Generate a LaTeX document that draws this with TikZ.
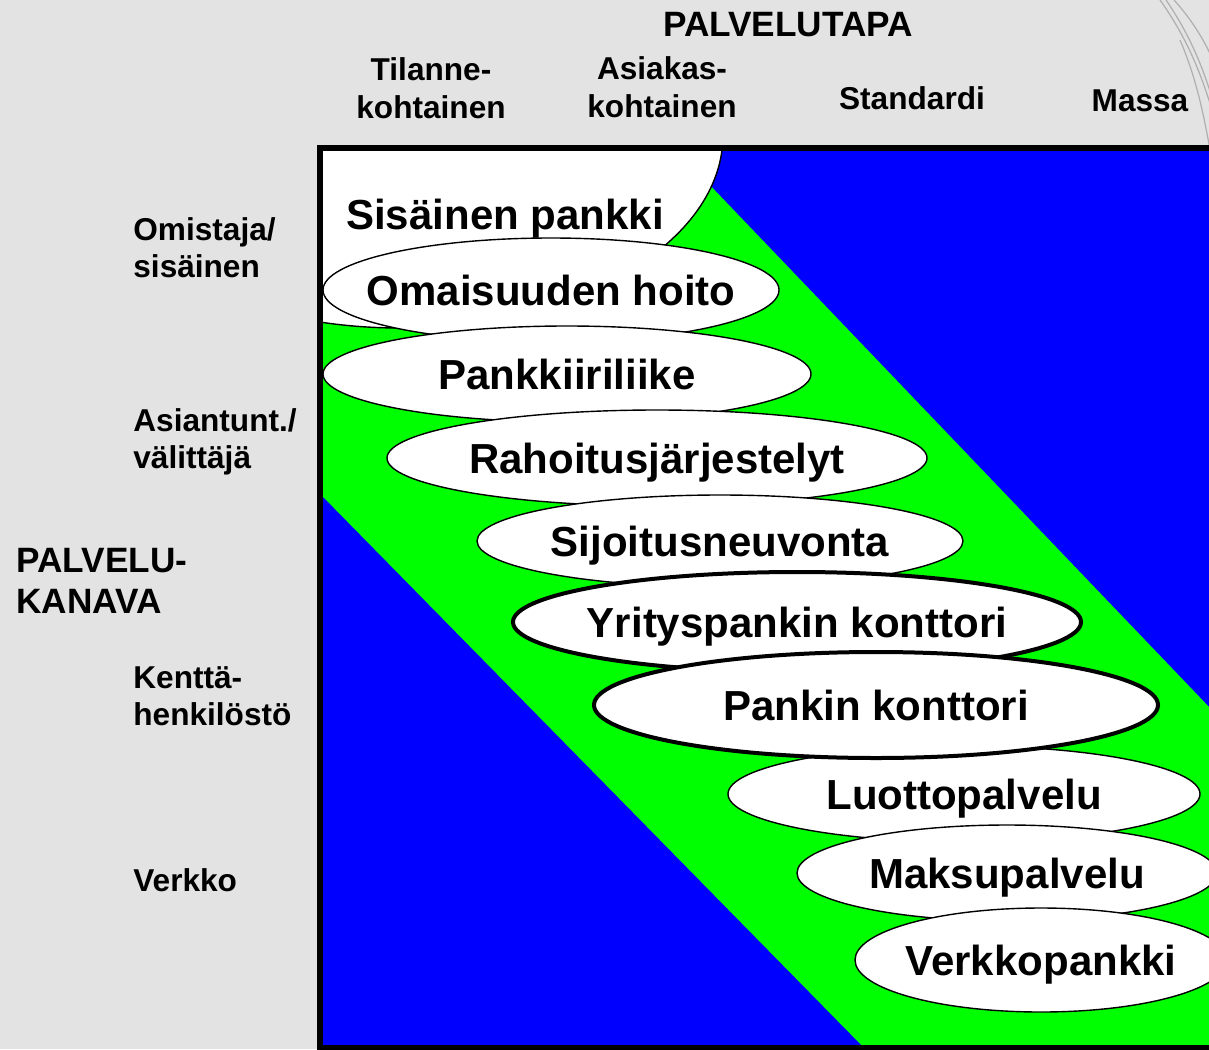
\documentclass[tikz,border=0pt]{standalone}
\usepackage{fontspec}
\setmainfont{Liberation Sans}
\usetikzlibrary{shapes.geometric}
\definecolor{tausta}{RGB}{227,227,227}
\definecolor{sininen}{RGB}{0,0,255}
\definecolor{vihrea}{RGB}{0,255,0}
\definecolor{juova}{RGB}{175,175,175}

\begin{document}
\begin{tikzpicture}[x=0.5pt, y=-0.5pt,
    kupla/.style={ellipse, draw, fill=white, line width=0.7pt, inner sep=0pt,
      font=\fontsize{21}{24}\selectfont\bfseries, text height=15pt, text depth=0pt},
    paksu/.style={kupla, line width=2pt},
    sarake/.style={align=center, font=\fontsize{15.8}{19}\selectfont\bfseries},
    rivi/.style={anchor=west, align=left, inner sep=0pt, font=\fontsize{15.8}{18.4}\selectfont\bfseries},
    akseli/.style={font=\fontsize{17.6}{20.5}\selectfont\bfseries}]
    % tausta
    \clip (0,0) rectangle (1209,1049);
    \fill[tausta] (0,0) rectangle (1209,1049);
    
    % koristejuovat oikeassa yläkulmassa
    \draw[juova, line width=0.6pt] (1160,0) .. controls (1185,35) and (1200,70) .. (1212,110);
    \draw[juova, line width=0.6pt] (1166,0) .. controls (1190,35) and (1203,68) .. (1212,98);
    \draw[juova, line width=0.6pt] (1174,0) .. controls (1192,20) and (1204,40) .. (1212,58);
    \draw[juova, line width=0.6pt] (1180,40) .. controls (1195,75) and (1203,110) .. (1210,150);
    
    % kentän pohjat
    \begin{scope}
        \clip (320,148) rectangle (1260,1048);
        \fill[vihrea] (320,148) rectangle (1260,1048);
        \fill[sininen] (674.6,148) -- (1260,148) -- (1260,760) -- cycle;
        \fill[sininen] (320,494) -- (864,1048) -- (320,1048) -- cycle;
        % sisäinen pankki -alue
        \draw[fill=white, line width=0.7pt] (400,135) ellipse [x radius=323, y radius=193];
    \end{scope}
    \node[font=\fontsize{21}{24}\selectfont\bfseries, text height=15pt, text depth=0pt] (sisainen) at (505,214) {Sisäinen pankki};
    
    % palvelut
    \node[kupla, minimum width=228pt, minimum height=52pt] (omaisuus) at (551,290) {\makebox[0pt]{Omaisuuden hoito}};
    \node[kupla, minimum width=244pt, minimum height=48pt] (pankkiiri) at (567,374) {\makebox[0pt]{Pankkiiriliike}};
    \node[kupla, minimum width=270pt, minimum height=48pt] (rahoitus) at (657,458) {\makebox[0pt]{Rahoitusjärjestelyt}};
    \node[kupla, minimum width=243pt, minimum height=46pt] (sijoitus) at (720,541) {\makebox[0pt]{Sijoitusneuvonta}};
    \node[kupla, minimum width=236pt, minimum height=48pt] (luotto) at (964,794) {\makebox[0pt]{Luottopalvelu}};
    \node[kupla, minimum width=210pt, minimum height=48pt] (maksu) at (1007,873) {\makebox[0pt]{Maksupalvelu}};
    \node[kupla, minimum width=186pt, minimum height=52pt] (verkko) at (1041,960) {\makebox[0pt]{Verkkopankki}};
    \node[paksu, minimum width=284pt, minimum height=50pt] (yritys) at (797,622) {\makebox[0pt]{Yrityspankin konttori}};
    \node[paksu, minimum width=282pt, minimum height=53pt] (konttori) at (876,705) {\makebox[0pt]{Pankin konttori}};
    
    % kehys
    \draw[line width=3pt] (320,148) rectangle (1260,1048);
    
    % palvelutapa
    \node[akseli] (tapa) at (788,25) {PALVELUTAPA};
    \node[sarake] (tilanne) at (431,88) {Tilanne-\\kohtainen};
    \node[sarake] (asiakas) at (662,87) {Asiakas-\\kohtainen};
    \node[sarake] (standardi) at (912,98) {Standardi};
    \node[sarake] (massa) at (1140,101) {Massa};
    
    % palvelukanava
    \node[akseli, anchor=west, align=left, inner sep=0pt] (kanava) at (16,581) {PALVELU-\\KANAVA};
    \node[rivi] (omistaja) at (133,248) {Omistaja/\\sisäinen};
    \node[rivi] (asiantuntija) at (133,442) {Asiantunt./\\välittäjä};
    \node[rivi] (kentta) at (133,696) {Kenttä-\\henkilöstö};
    \node[rivi] (verkkokanava) at (133,880) {Verkko};
\end{tikzpicture}
\end{document}
